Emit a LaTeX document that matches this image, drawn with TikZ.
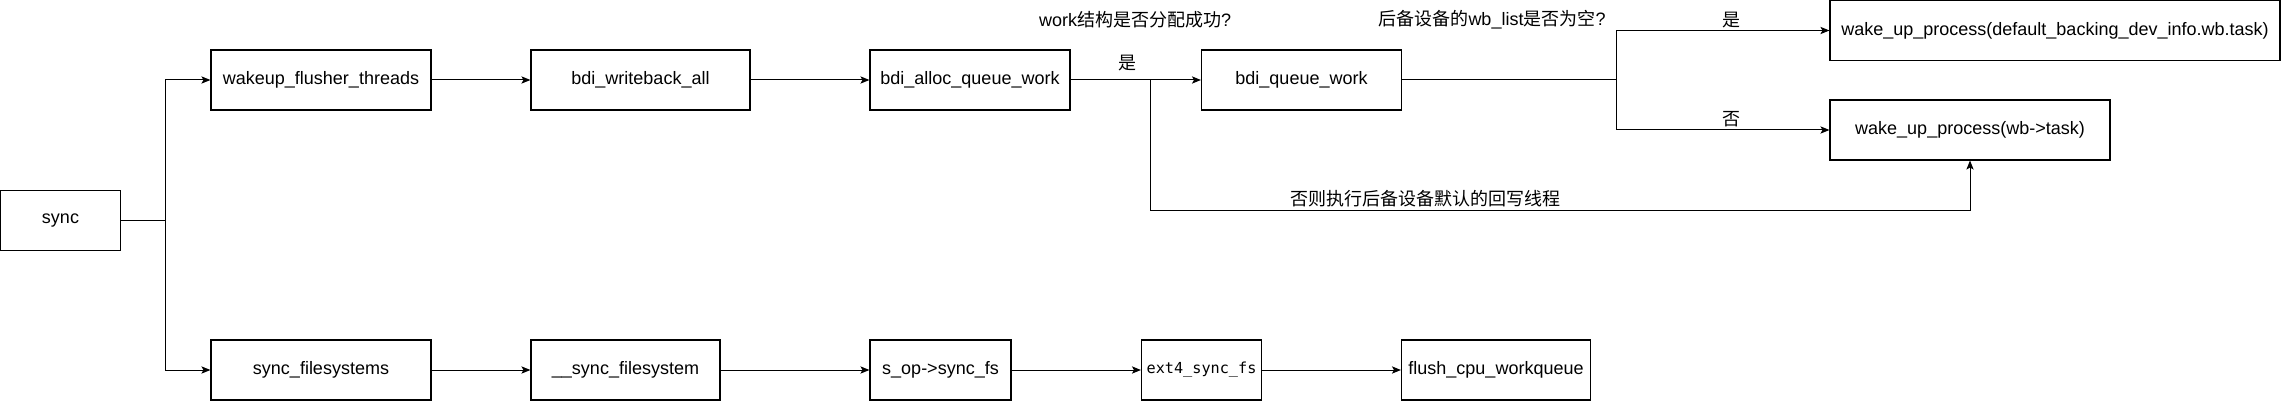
\documentclass[tikz,border=0pt]{standalone}
\usepackage{fontspec}
\setmainfont{Liberation Sans}
\newfontfamily\cjk{Noto Sans CJK SC}
\newfontfamily\codefont{DejaVu Sans Mono}
\usetikzlibrary{arrows.meta}

\begin{document}
\begin{tikzpicture}[x=0.5pt,y=-0.5pt,
        font=\fontsize{9pt}{11pt}\selectfont,
        fn/.style={draw,line width=0.55pt,minimum height=30pt,inner sep=0pt},
        flow/.style={line width=0.5pt,-{Stealth[length=4.5pt,width=3.6pt,inset=1pt]}},
        link/.style={line width=0.5pt}]
        \useasboundingbox (0,0) rectangle (2281,401);
        % call boxes
        \node[fn,minimum width=60pt] (sync) at (60.5,220.5) {sync};
        \node[fn,minimum width=110pt] (wakeup) at (321,80) {wakeup\_flusher\_threads};
        \node[fn,minimum width=109.5pt] (wball) at (640.5,80) {bdi\_writeback\_all};
        \node[fn,minimum width=100pt] (alloc) at (970,80) {bdi\_alloc\_queue\_work};
        \node[fn,minimum width=100pt] (queue) at (1301.5,80) {bdi\_queue\_work};
        \node[fn,minimum width=225pt] (wkdef) at (2055,30.5) {wake\_up\_process(default\_backing\_dev\_info.wb.task)};
        \node[fn,minimum width=140pt] (wktask) at (1970,130) {wake\_up\_process(wb->task)};
        \node[fn,minimum width=110pt] (syncfss) at (321,370) {sync\_filesystems};
        \node[fn,minimum width=94.5pt] (syncfs) at (625.5,370) {\_\_sync\_filesystem};
        \node[fn,minimum width=70.5pt] (sop) at (940.5,370) {s\_op->sync\_fs};
        \node[fn,minimum width=60pt] (ext4) at (1201.5,370) {\codefont\fontsize{7.6pt}{9pt}\selectfont ext4\_sync\_fs};
        \node[fn,minimum width=94.5pt] (flush) at (1496,370) {flush\_cpu\_workqueue};
        % branch points
        \coordinate (fork) at (165,220.5);
        \coordinate (chk) at (1150,80);
        \coordinate (dflt) at (1150,210);
        \coordinate (sel) at (1616,80);
        % labels
        \node (qalloc) at (1135,20) {work{\cjk 结构是否分配成功}?};
        \node (qlist) at (1492,20) {{\cjk 后备设备的}wb\_list{\cjk 是否为空}?};
        \node[font=\cjk\fontsize{9pt}{11pt}\selectfont] (yes1) at (1127,63) {是};
        \node[font=\cjk\fontsize{9pt}{11pt}\selectfont] (yes2) at (1731,20) {是};
        \node[font=\cjk\fontsize{9pt}{11pt}\selectfont] (no2) at (1731,119) {否};
        \node[font=\cjk\fontsize{9pt}{11pt}\selectfont] (else) at (1425,199) {否则执行后备设备默认的回写线程};
        % connectors
        \draw[link] (sync) -- (fork);
        \draw[flow] (fork) |- (wakeup);
        \draw[flow] (fork) |- (syncfss);
        \draw[flow] (wakeup) -- (wball);
        \draw[flow] (wball) -- (alloc);
        \draw[flow] (alloc) -- (queue);
        \draw[flow] (chk) -- (dflt) -| (wktask);
        \draw[link] (queue) -- (sel);
        \draw[flow] (sel) |- (wkdef);
        \draw[flow] (sel) |- (wktask);
        \draw[flow] (syncfss) -- (syncfs);
        \draw[flow] (syncfs) -- (sop);
        \draw[flow] (sop) -- (ext4);
        \draw[flow] (ext4) -- (flush);
\end{tikzpicture}
\end{document}
